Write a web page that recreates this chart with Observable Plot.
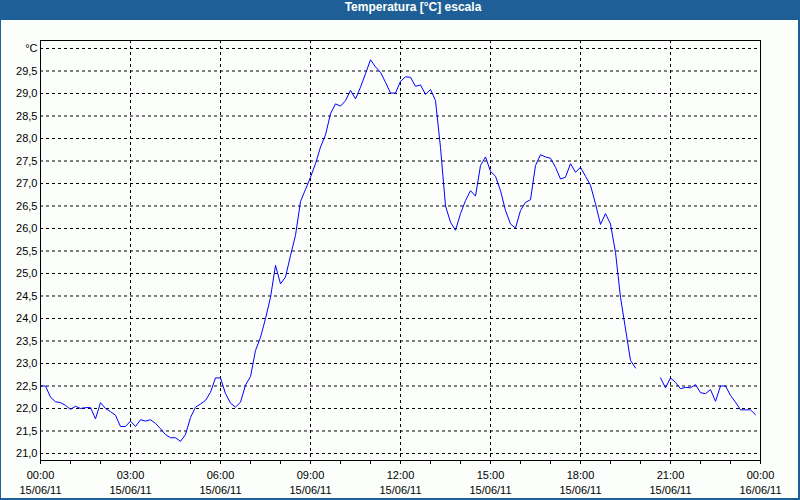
<!DOCTYPE html>
<html>
<head>
<meta charset="utf-8">
<script src="https://cdn.jsdelivr.net/npm/d3@7"></script>
<script src="https://cdn.jsdelivr.net/npm/@observablehq/plot@0.6"></script>
<style>
  html, body { margin: 0; padding: 0; background: #fbfefb; }
  #wrap { position: relative; width: 800px; height: 500px; overflow: hidden; background: #fbfefb; }
  #title { height: 20px; line-height: 20px; background: #1d5f96; color: #fff; font: bold 12px "Liberation Sans", Arial, sans-serif; text-align: center; padding-left: 26px; box-sizing: border-box; }
  #border { position: absolute; left: 0; top: 0; width: 800px; height: 500px; box-sizing: border-box; border-left: 1px solid #1d5f96; border-right: 2px solid #1d5f96; border-bottom: 2px solid #1d5f96; pointer-events: none; }
  svg { display: block; }
</style>
</head>
<body>
<div id="wrap">
  <div id="title">Temperatura [°C] escala</div>
  <div id="chart"></div>
  <div id="border"></div>
</div>
<script>
// ---- data ----
const chartTitle = "Temperatura [°C] escala";
const startTime = "2011-06-15T00:00:00Z";
const endTime = "2011-06-16T00:00:00Z";
const sampleMinutes = 10;
// temperature readings every 10 minutes from 00:00 (null = no reading)
const temps = [
  22.50, 22.50, 22.25, 22.15, 22.13, 22.07, 21.98, 22.05, 22.00, 22.02,
  22.02, 21.77, 22.13, 22.00, 21.93, 21.85, 21.60, 21.60, 21.72, 21.60,
  21.75, 21.72, 21.75, 21.67, 21.55, 21.42, 21.35, 21.35, 21.27, 21.42,
  21.80, 22.03, 22.10, 22.18, 22.36, 22.68, 22.68, 22.33, 22.12, 22.03,
  22.14, 22.52, 22.71, 23.29, 23.58, 24.00, 24.47, 25.18, 24.77, 24.92,
  25.40, 25.85, 26.60, 26.87, 27.14, 27.44, 27.81, 28.08, 28.55, 28.77,
  28.72, 28.84, 29.07, 28.88, 29.14, 29.44, 29.75, 29.59, 29.47, 29.25,
  29.01, 29.01, 29.27, 29.37, 29.36, 29.16, 29.19, 28.98, 29.09, 28.84,
  27.80, 26.50, 26.14, 25.96, 26.33, 26.62, 26.84, 26.72, 27.40, 27.59,
  27.27, 27.16, 26.84, 26.40, 26.10, 26.01, 26.40, 26.58, 26.64, 27.40,
  27.64, 27.59, 27.56, 27.36, 27.10, 27.14, 27.44, 27.25, 27.36, 27.16,
  26.96, 26.55, 26.09, 26.33, 26.10, 25.47, 24.47, 23.77, 23.07, 22.90,
  null, null, null, null, 22.68, 22.46, 22.68, 22.58, 22.44, 22.47,
  22.46, 22.53, 22.35, 22.33, 22.42, 22.16, 22.50, 22.50, 22.29, 22.14,
  21.97, 21.97, 21.97, 21.86
];
const yTicks = [21.0, 21.5, 22.0, 22.5, 23.0, 23.5, 24.0, 24.5, 25.0, 25.5, 26.0, 26.5, 27.0, 27.5, 28.0, 28.5, 29.0, 29.5, 30.0];
const yTickLabels = ["21,0", "21,5", "22,0", "22,5", "23,0", "23,5", "24,0", "24,5", "25,0", "25,5", "26,0", "26,5", "27,0", "27,5", "28,0", "28,5", "29,0", "29,5", "°C"];
const xTickTimes = ["2011-06-15T00:00:00Z", "2011-06-15T03:00:00Z", "2011-06-15T06:00:00Z", "2011-06-15T09:00:00Z", "2011-06-15T12:00:00Z", "2011-06-15T15:00:00Z", "2011-06-15T18:00:00Z", "2011-06-15T21:00:00Z", "2011-06-16T00:00:00Z"];
const xTickHours = ["00:00", "03:00", "06:00", "09:00", "12:00", "15:00", "18:00", "21:00", "00:00"];
const xTickDates = ["15/06/11", "15/06/11", "15/06/11", "15/06/11", "15/06/11", "15/06/11", "15/06/11", "15/06/11", "16/06/11"];

// ---- build ----
const t0 = new Date(startTime);
const t1 = new Date(endTime);
const data = temps.map((v, i) => ({ time: new Date(+t0 + i * sampleMinutes * 60000), temp: v }));
const majorTicks = xTickTimes.map(s => new Date(s));
const minorTicks = d3.utcHour.range(t0, new Date(+t1 + 1));
const hourMap = new Map(majorTicks.map((d, i) => [+d, xTickHours[i]]));
const dateMap = new Map(majorTicks.map((d, i) => [+d, xTickDates[i]]));
const yMap = new Map(yTicks.map((d, i) => [d, yTickLabels[i]]));

const chart = Plot.plot({
  width: 800,
  height: 478,
  marginTop: 20,
  marginBottom: 38,
  marginLeft: 40,
  marginRight: 40,
  style: { fontFamily: "'Liberation Sans', Arial, sans-serif", fontSize: "11px", background: "transparent", color: "#000", overflow: "visible" },
  x: { type: "utc", domain: [t0, t1] },
  y: { domain: [20.8444, 30.1778] },
  marks: [
    Plot.ruleY(yTicks, { stroke: "#000", strokeOpacity: 1, strokeDasharray: "3,3" }),
    Plot.ruleX(majorTicks.slice(1, -1), { stroke: "#000", strokeOpacity: 1, strokeDasharray: "3,3" }),
    Plot.line(data, { x: "time", y: "temp", stroke: "#0000ff", strokeWidth: 1 }),
    Plot.frame({ stroke: "#000", strokeOpacity: 1 }),
    Plot.axisY(yTicks, { tickSize: 0, tickPadding: 3, tickFormat: d => yMap.get(d), label: null }),
    Plot.axisX(minorTicks, { tickSize: 4, tickFormat: () => "", label: null, strokeOpacity: 1 }),
    Plot.axisX(majorTicks, { tickSize: 0, tickPadding: 11, tickFormat: d => hourMap.get(+d), label: null }),
    Plot.axisX(majorTicks, { tickSize: 0, tickPadding: 26, tickFormat: d => dateMap.get(+d), label: null })
  ]
});
document.getElementById("chart").appendChild(chart);
</script>
</body>
</html>
